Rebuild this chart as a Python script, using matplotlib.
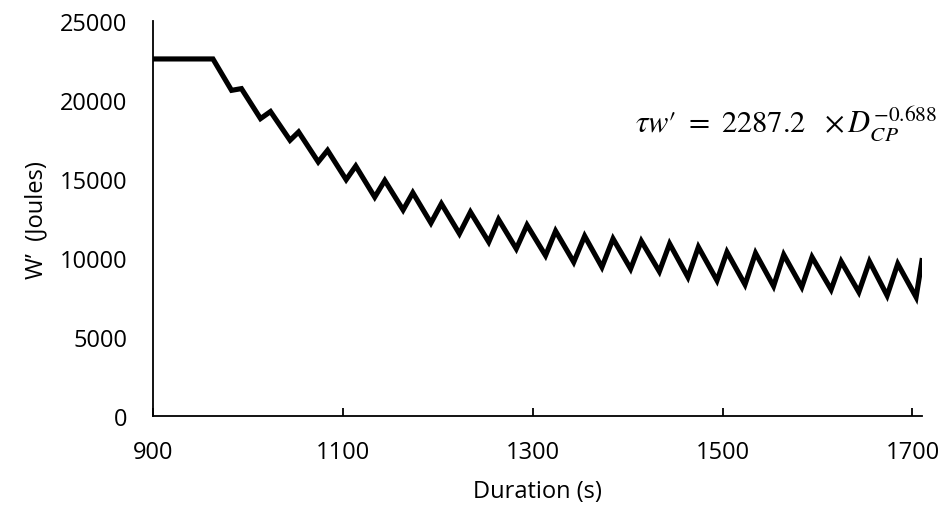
import matplotlib
matplotlib.use("Agg")
import matplotlib.pyplot as plt

# W' balance over time
duration = [900, 963.2, 982.8, 993.2, 1013.3, 1023.8, 1044.4, 1053.4, 1074.1, 1083.9,
            1103.5, 1113.6, 1133.6, 1144.2, 1163.5, 1173.7, 1192.8, 1203.8, 1222.8, 1234.4,
            1253.7, 1264, 1282.7, 1294, 1313.5, 1324.1, 1343.2, 1354.7, 1372.9, 1384.6,
            1403.1, 1414.4, 1433.4, 1444.2, 1463.5, 1474.5, 1494.1, 1504.6, 1523.6, 1534.7,
            1553.7, 1564.4, 1583.4, 1594.2, 1614.3, 1624.9, 1643.5, 1654.7, 1673.3, 1684.5,
            1703.8, 1710]
w_prime = [22600, 22600, 20615, 20724, 18829, 19275, 17460, 17985, 16090, 16824,
           14969, 15832, 13867, 14919, 13053, 14145, 12230, 13450, 11555, 12924,
           11029, 12458, 10602, 12100, 10175, 11723, 9758, 11406, 9441, 11237,
           9332, 11088, 9163, 10919, 8806, 10711, 8597, 10394, 8339, 10324,
           8240, 10225, 8181, 10076, 8022, 9798, 7863, 9798, 7645, 9649,
           7545, 9850]

x_ticks = [900, 1100, 1300, 1500, 1700]
y_ticks = [0, 5000, 10000, 15000, 20000, 25000]

plt.rcParams['font.family'] = ['Open Sans', 'DejaVu Sans']
plt.rcParams['mathtext.fontset'] = 'stix'

fig = plt.figure(figsize=(9.43, 5.10), dpi=100)
ax = fig.add_axes([0.1622, 0.1814, 0.8155, 0.7755])

ax.plot(duration, w_prime, color='black', lw=3.7, solid_joinstyle='miter')

ax.set_xlim(900, 1710)
ax.set_ylim(0, 25000)
ax.set_xticks(x_ticks)
ax.set_yticks(y_ticks)
ax.tick_params(axis='y', length=0, labelsize=17, pad=18.5)
ax.tick_params(axis='x', direction='in', length=6, width=1.3, labelsize=17, pad=17)

for s in ['top', 'right']:
    ax.spines[s].set_visible(False)
for s in ['left', 'bottom']:
    ax.spines[s].set_color('black')
    ax.spines[s].set_linewidth(1.3)

ax.set_xlabel('Duration (s)', fontsize=17, labelpad=11)
ax.set_ylabel('W\u2019  (Joules)', fontsize=17, labelpad=8)

# equation label, Cambria-Math-like look via STIX
fig.text(635 / 943, 1 - 132 / 510,
         '$\\tau w\u2032\\ =\\ 2287.2\\ \\ \\times D_{CP}^{-0.688}$',
         fontsize=22, ha='left', va='baseline')

fig.savefig('out.png', dpi=100)
